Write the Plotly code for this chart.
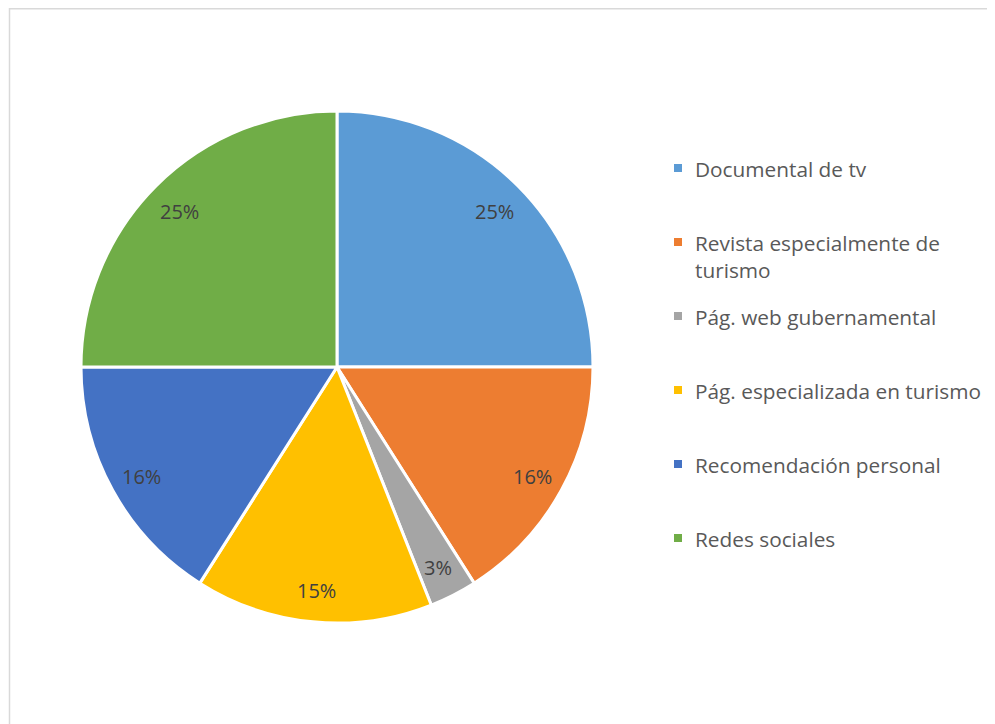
import math
import plotly.graph_objects as go

CATEGORIES = [
    "Documental de tv",
    "Revista especialmente de<br>turismo",
    "Pág. web gubernamental",
    "Pág. especializada en turismo",
    "Recomendación personal",
    "Redes sociales",
]
VALUES = [25, 16, 3, 15, 16, 25]
COLORS = ["#5B9BD5", "#ED7D31", "#A5A5A5", "#FFC000", "#4472C4", "#70AD47"]

# page has an 8px body margin, so the figure is a bit smaller than the window
W, H = 987, 716
OFF = 8
FONT = "Open Sans"

# pie geometry in page pixels
CX, CY, R = 337 - OFF, 367 - OFF, 256


def px(x):
    return x / W


def py(y):
    return 1 - y / H


fig = go.Figure()

fig.add_trace(go.Pie(
    labels=CATEGORIES,
    values=VALUES,
    sort=False,
    direction="clockwise",
    rotation=0,
    marker=dict(colors=COLORS, line=dict(color="white", width=3)),
    textinfo="none",
    domain=dict(x=[px(CX - R), px(CX + R)], y=[py(CY + R), py(CY - R)]),
    showlegend=False,
    hoverinfo="label+percent",
))

# percentage labels near the outer edge, Excel style
total = sum(VALUES)
cum = 0
for v in VALUES:
    mid = (cum + v / 2) / total * 2 * math.pi
    cum += v
    r = R * 0.87
    fig.add_annotation(xref="paper", yref="paper",
                       x=px(CX + r * math.sin(mid)), y=py(CY - r * math.cos(mid) + 2),
                       text=f"{round(v / total * 100)}%", showarrow=False,
                       xanchor="center", yanchor="middle",
                       font=dict(family=FONT, size=20, color="#404040"))

# legend drawn by hand so the rows keep an even spacing
for i, (name, color) in enumerate(zip(CATEGORIES, COLORS)):
    y = 168 - OFF + i * 74
    fig.add_shape(type="rect", xref="paper", yref="paper",
                  x0=px(674 - OFF), x1=px(682 - OFF), y0=py(y + 4), y1=py(y - 4),
                  fillcolor=color, line=dict(width=0))
    fig.add_annotation(xref="paper", yref="paper", x=px(693 - OFF), y=py(y - 15),
                       text=name, showarrow=False, xanchor="left", yanchor="top",
                       align="left", font=dict(family=FONT, size=20.8, color="#595959"))

# chart frame
fig.add_shape(type="rect", xref="paper", yref="paper",
              x0=px(9.5 - OFF), x1=1.02, y0=-0.02, y1=py(0.8),
              line=dict(color="#D9D9D9", width=1.5))

fig.update_layout(
    width=W, height=H,
    margin=dict(l=0, r=0, t=0, b=0),
    paper_bgcolor="white",
    plot_bgcolor="white",
)

fig.write_html("out.html")
